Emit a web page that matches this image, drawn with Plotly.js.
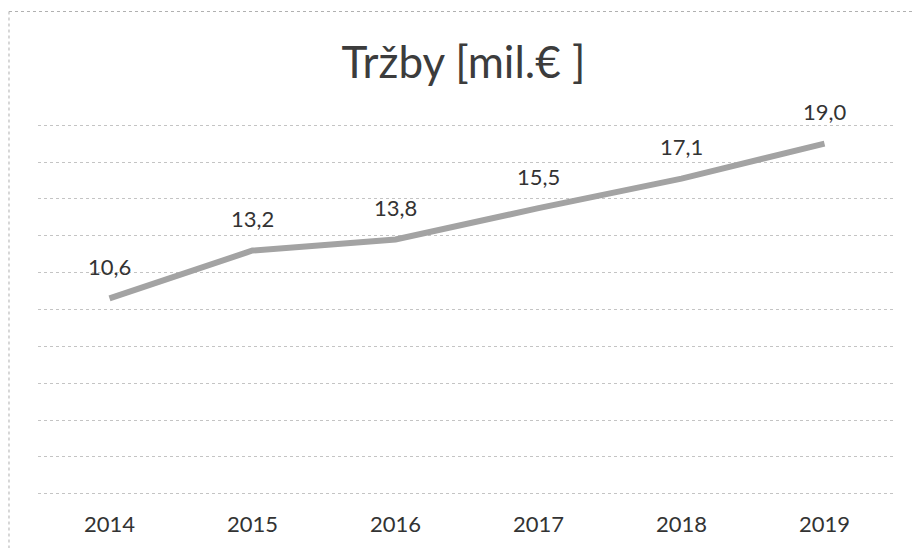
<!DOCTYPE html>
<html>
<head>
<meta charset="utf-8">
<script src="https://cdn.plot.ly/plotly-3.0.1.min.js"></script>
<style>
html,body{margin:0;padding:0;background:#fff;}
#chart{width:914px;height:548px;}
</style>
</head>
<body>
<div id="chart"></div>
<script>
const years = ['2014', '2015', '2016', '2017', '2018', '2019'];
const revenue = [10.6, 13.2, 13.8, 15.5, 17.1, 19.0];
const labels = ['10,6', '13,2', '13,8', '15,5', '17,1', '19,0'];
const titleText = 'Tržby [mil.€ ]';

const font = 'Lato, "Open Sans", "DejaVu Sans", sans-serif';

const trace = {
  x: years,
  y: revenue,
  type: 'scatter',
  mode: 'lines',
  line: {color: '#a3a3a3', width: 6},
  hoverinfo: 'skip'
};

// category axis: annotation x given as category index
const annotations = years.map((yr, i) => ({
  x: i, y: revenue[i], xref: 'x', yref: 'y',
  text: labels[i], showarrow: false,
  yshift: 32,
  font: {family: font, size: 22, color: '#333333'}
}));

const layout = {
  width: 914, height: 548,
  margin: {l: 38, r: 18, t: 116, b: 45},
  paper_bgcolor: '#ffffff', plot_bgcolor: '#ffffff',
  showlegend: false,
  title: {
    text: titleText,
    font: {family: font, size: 44, color: '#3c3c3c'},
    x: 0.507, xref: 'container', xanchor: 'center',
    y: 0.885, yref: 'container', yanchor: 'middle'
  },
  xaxis: {
    type: 'category', range: [-0.5, 5.5],
    showgrid: false, zeroline: false, showline: false, ticks: '',
    ticklabelstandoff: 6,
    tickfont: {family: font, size: 22, color: '#333333'}
  },
  yaxis: {
    range: [-0.5, 20.5], dtick: 2, tick0: 0,
    showgrid: true, gridcolor: '#c4c4c4', gridwidth: 1, griddash: 'dot',
    zeroline: false, showline: false, showticklabels: false, ticks: ''
  },
  annotations: annotations,
  shapes: [
    {type: 'line', xref: 'paper', yref: 'paper', x0: -0.0338, x1: 1.03, y0: 1.27, y1: 1.27,
     line: {color: '#b0b0b0', width: 1, dash: 'dot'}},
    {type: 'line', xref: 'paper', yref: 'paper', x0: -0.0338, x1: -0.0338, y0: 1.27, y1: -0.13,
     line: {color: '#b0b0b0', width: 1, dash: 'dot'}}
  ]
};

Plotly.newPlot('chart', [trace], layout, {staticPlot: true, displayModeBar: false});
</script>
</body>
</html>
